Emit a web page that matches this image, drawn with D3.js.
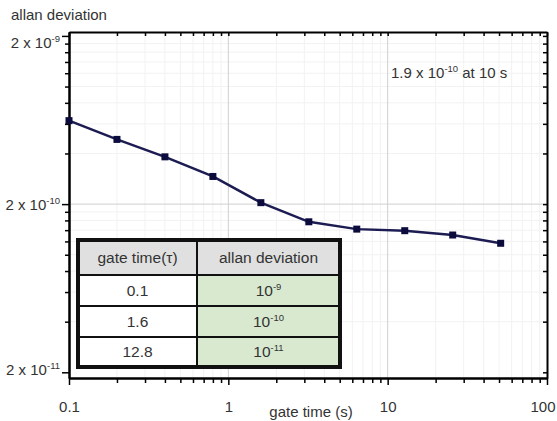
<!DOCTYPE html>
<html>
<head>
<meta charset="utf-8">
<script src="https://cdn.jsdelivr.net/npm/d3@7"></script>
<style>
  body { margin: 0; background: #fff; }
  svg { display: block; font-family: "Liberation Sans", Arial, sans-serif; }
</style>
</head>
<body>
<svg id="chart" width="557" height="421"></svg>
<script>
// data
const gateTimes = [0.1, 0.2, 0.4, 0.8, 1.6, 3.2, 6.4, 12.8, 25.6, 51.2];
const allanDev = [6.27e-10, 4.85e-10, 3.82e-10, 2.92e-10, 2.04e-10, 1.57e-10, 1.42e-10, 1.39e-10, 1.31e-10, 1.17e-10];

const xTicks = [0.1, 1, 10, 100];
const xTickLabels = ["0.1", "1", "10", "100"];
const yTicks = [2e-11, 2e-10, 2e-9];
const yTickExps = ["-11", "-10", "-9"];

const tableHeader = ["gate time(\u03c4)", "allan deviation"];
const tableTau = ["0.1", "1.6", "12.8"];
const tableDevExp = ["-9", "-10", "-11"];

const note = { base: "1.9 x 10", exp: "-10", rest: " at 10 s" };

const svg = d3.select("#chart");
const margin = { top: 32, right: 10, bottom: 43, left: 69 },
      width = 557 - margin.left - margin.right,
      height = 421 - margin.top - margin.bottom;

const x = d3.scaleLog().domain([0.1, 100]).range([0, width]);
const y = d3.scaleLog().domain([1.85e-11, 2.11e-9]).range([height, 0]);

// minor ticks
const xMinor = [];
for (const p of [-1, 0, 1]) for (let k = 2; k <= 9; k++) xMinor.push(k * Math.pow(10, p));
const yMinor = [];
for (const p of [-12, -11, -10]) for (let k = 2; k <= 9; k++) {
  const v = 2 * k * Math.pow(10, p);
  if (v >= y.domain()[0] && v <= y.domain()[1]) yMinor.push(v);
}

const g = svg.append("g").attr("transform", `translate(${margin.left},${margin.top})`);

// grid
g.append("g").selectAll("line").data(xMinor).enter().append("line")
  .attr("x1", d => x(d)).attr("x2", d => x(d)).attr("y1", 0).attr("y2", height)
  .attr("stroke", "#f2f2f2");
g.append("g").selectAll("line").data(yMinor).enter().append("line")
  .attr("y1", d => y(d)).attr("y2", d => y(d)).attr("x1", 0).attr("x2", width)
  .attr("stroke", "#f2f2f2");
g.append("g").selectAll("line").data(xTicks.slice(1, 3)).enter().append("line")
  .attr("x1", d => x(d)).attr("x2", d => x(d)).attr("y1", 0).attr("y2", height)
  .attr("stroke", "#cfcfcf");
g.append("g").selectAll("line").data([yTicks[1]]).enter().append("line")
  .attr("y1", d => y(d)).attr("y2", d => y(d)).attr("x1", 0).attr("x2", width)
  .attr("stroke", "#cfcfcf");

// axes
function styleAxis(sel) {
  sel.select(".domain").attr("stroke", "#000").attr("stroke-width", 2);
  sel.selectAll(".tick line").attr("stroke", "#000").attr("stroke-width", 1.5);
}

g.append("g").attr("transform", `translate(0,${height})`)
  .call(d3.axisBottom(x).tickValues(xMinor).tickSize(5).tickSizeOuter(0).tickFormat(""))
  .call(styleAxis);
const xAxis = g.append("g").attr("transform", `translate(0,${height})`)
  .call(d3.axisBottom(x).tickValues(xTicks).tickSize(7).tickSizeOuter(0)
    .tickFormat((d, i) => xTickLabels[i]))
  .call(styleAxis);
xAxis.selectAll("text").attr("font-size", 15).attr("fill", "#333").attr("y", 23)
  .attr("font-family", "Liberation Sans, Arial, sans-serif");
// last label would run past the right edge
xAxis.selectAll("text").filter(d => d === 100).attr("text-anchor", "end").attr("x", 8);

g.append("g")
  .call(d3.axisTop(x).tickValues(xMinor.concat(xTicks)).tickSize(-4).tickSizeOuter(0).tickFormat(""))
  .call(styleAxis);

g.append("g")
  .call(d3.axisLeft(y).tickValues(yMinor).tickSize(4).tickSizeOuter(0).tickFormat(""))
  .call(styleAxis);
const yAxis = g.append("g")
  .call(d3.axisLeft(y).tickValues(yTicks).tickSize(7).tickSizeOuter(0).tickFormat(""))
  .call(styleAxis);
yAxis.selectAll(".tick").append("text")
  .attr("x", -9).attr("dy", "0.35em").attr("text-anchor", "end")
  .attr("y", (d, i) => i === 2 ? 6 : i === 0 ? -3 : 0)
  .attr("font-size", 15).attr("fill", "#333")
  .each(function (d, i) {
    const t = d3.select(this);
    t.append("tspan").text("2 x 10");
    t.append("tspan").attr("dy", -6).attr("font-size", 9.5).text(yTickExps[i]);
  });

g.append("g").attr("transform", `translate(${width},0)`)
  .call(d3.axisRight(y).tickValues(yMinor.concat(yTicks)).tickSize(-4).tickSizeOuter(0).tickFormat(""))
  .call(styleAxis);

// series
const line = d3.line().x(d => x(d[0])).y(d => y(d[1]));
const pts = gateTimes.map((t, i) => [t, allanDev[i]]);
g.append("path").datum(pts)
  .attr("fill", "none").attr("stroke", "#1c1c52").attr("stroke-width", 2.5)
  .attr("d", line);
g.selectAll(".pt").data(pts).enter().append("rect")
  .attr("class", "pt")
  .attr("x", d => x(d[0]) - 3.5).attr("y", d => y(d[1]) - 3.5)
  .attr("width", 7).attr("height", 7)
  .attr("fill", "#0b0b3d");

// titles
svg.append("text").attr("x", 11).attr("y", 20).attr("font-size", 15).attr("fill", "#333")
  .text("allan deviation");
svg.append("text").attr("x", 311).attr("y", 417).attr("text-anchor", "middle")
  .attr("font-size", 15).attr("fill", "#333").text("gate time (s)");

// annotation
const ann = svg.append("text").attr("x", 391).attr("y", 78).attr("font-size", 15).attr("fill", "#333");
ann.append("tspan").text(note.base);
ann.append("tspan").attr("dy", -6).attr("font-size", 9.5).text(note.exp);
ann.append("tspan").attr("dy", 6).text(note.rest);

// table
const tb = { left: 78, mid: 197, right: 340, rows: [240, 275, 306, 337, 367] };
const table = svg.append("g");
table.append("rect").attr("x", tb.left).attr("y", tb.rows[0])
  .attr("width", tb.right - tb.left).attr("height", tb.rows[1] - tb.rows[0]).attr("fill", "#e0e0e0");
tableTau.forEach((v, i) => {
  table.append("rect").attr("x", tb.left).attr("y", tb.rows[i + 1])
    .attr("width", tb.mid - tb.left).attr("height", tb.rows[i + 2] - tb.rows[i + 1]).attr("fill", "#fff");
  table.append("rect").attr("x", tb.mid).attr("y", tb.rows[i + 1])
    .attr("width", tb.right - tb.mid).attr("height", tb.rows[i + 2] - tb.rows[i + 1]).attr("fill", "#d8e9cf");
});
tb.rows.slice(1, 4).forEach(r => {
  table.append("line").attr("x1", tb.left).attr("x2", tb.right).attr("y1", r).attr("y2", r)
    .attr("stroke", "#111").attr("stroke-width", 2);
});
table.append("line").attr("x1", tb.mid).attr("x2", tb.mid).attr("y1", tb.rows[0]).attr("y2", tb.rows[4])
  .attr("stroke", "#111").attr("stroke-width", 2);
table.append("rect").attr("x", tb.left).attr("y", tb.rows[0])
  .attr("width", tb.right - tb.left).attr("height", tb.rows[4] - tb.rows[0])
  .attr("fill", "none").attr("stroke", "#111").attr("stroke-width", 4);

const c1 = (tb.left + tb.mid) / 2, c2 = (tb.mid + tb.right) / 2;
tableHeader.forEach((h, i) => {
  table.append("text").attr("x", i ? c2 : c1).attr("y", (tb.rows[0] + tb.rows[1]) / 2)
    .attr("dy", "0.35em").attr("text-anchor", "middle").attr("font-size", 15.5).attr("fill", "#333").text(h);
});
tableTau.forEach((v, i) => {
  const cy = (tb.rows[i + 1] + tb.rows[i + 2]) / 2;
  table.append("text").attr("x", c1).attr("y", cy).attr("dy", "0.35em")
    .attr("text-anchor", "middle").attr("font-size", 15.5).attr("fill", "#333").text(v);
  const t = table.append("text").attr("x", c2).attr("y", cy).attr("dy", "0.35em")
    .attr("text-anchor", "middle").attr("font-size", 15.5).attr("fill", "#333");
  t.append("tspan").text("10");
  t.append("tspan").attr("dy", -6).attr("font-size", 9.5).text(tableDevExp[i]);
});
</script>
</body>
</html>
